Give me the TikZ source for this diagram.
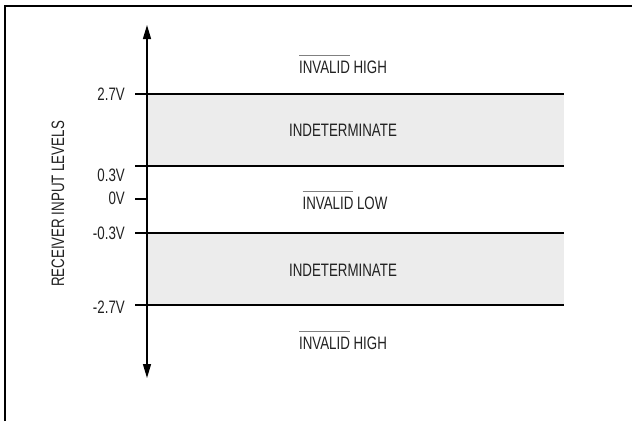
\documentclass[tikz,border=0pt]{standalone}
\usepackage{fontspec}
\setmainfont{Liberation Sans}[FakeStretch=0.74]
\usepackage{tikz}
\usetikzlibrary{arrows.meta}
\definecolor{bandgray}{gray}{0.925}
\definecolor{inkgray}{gray}{0.13}
\newcommand\notbar[1]{\setbox0\hbox{#1}\rlap{\color{gray}\rule[\dimexpr\ht0+5pt\relax]{\wd0}{1.4pt}}\box0\relax}

\begin{document}
\begin{tikzpicture}[x=1pt,y=-1pt,
    lvl/.style={line width=1.4pt},
    lbl/.style={font=\fontsize{18}{20}\selectfont, text=inkgray, inner sep=0pt},
    vlbl/.style={lbl, anchor=east}]
    \useasboundingbox (0,0) rectangle (632,421);
    % frame
    \draw[line width=2pt] (4.5,421) -- (4.5,6) -- (632,6);

    % level coordinates
    \coordinate (hiT) at (135,94);   \coordinate (hiR) at (564,94);
    \coordinate (ptT) at (135,166);  \coordinate (ptR) at (564,166);
    \coordinate (zeT) at (135,199);  \coordinate (zeA) at (147,199);
    \coordinate (mpT) at (135,233);  \coordinate (mpR) at (564,233);
    \coordinate (loT) at (135,305);  \coordinate (loR) at (564,305);

    % grey bands
    \fill[bandgray] (147,94) rectangle (ptR);
    \fill[bandgray] (147,233) rectangle (loR);

    % levels
    \draw[lvl] (hiT) -- (hiR);
    \draw[lvl] (ptT) -- (ptR);
    \draw[lvl] (zeT) -- (zeA);
    \draw[lvl] (mpT) -- (mpR);
    \draw[lvl] (loT) -- (loR);

    % axis
    \coordinate (axtop) at (147,25);
    \coordinate (axbot) at (147,378);
    \draw[line width=1.3pt, {Triangle[length=14pt,width=8pt]}-{Triangle[length=14pt,width=8pt]}] (axtop) -- (axbot);

    % voltage labels
    \node[vlbl] (v27) at (125,94) {2.7V};
    \node[vlbl] (v03) at (125,175) {0.3V};
    \node[vlbl] (v0) at (125,198) {0V};
    \node[vlbl] (vm03) at (125,233) {-0.3V};
    \node[vlbl] (vm27) at (125,307) {-2.7V};

    % region labels
    \node[lbl] (rHigh) at (343,64) {\notbar{INVALID} HIGH};
    \node[lbl] (rInd) at (343,130) {INDETERMINATE};
    \node[lbl] (rLow) at (345,200) {\notbar{INVALID} LOW};
    \node[lbl] (rIndB) at (343,270) {INDETERMINATE};
    \node[lbl] (rHighB) at (343,340) {\notbar{INVALID} HIGH};

    \node[lbl, rotate=90] (axname) at (58,204) {RECEIVER INPUT LEVELS};
\end{tikzpicture}
\end{document}
